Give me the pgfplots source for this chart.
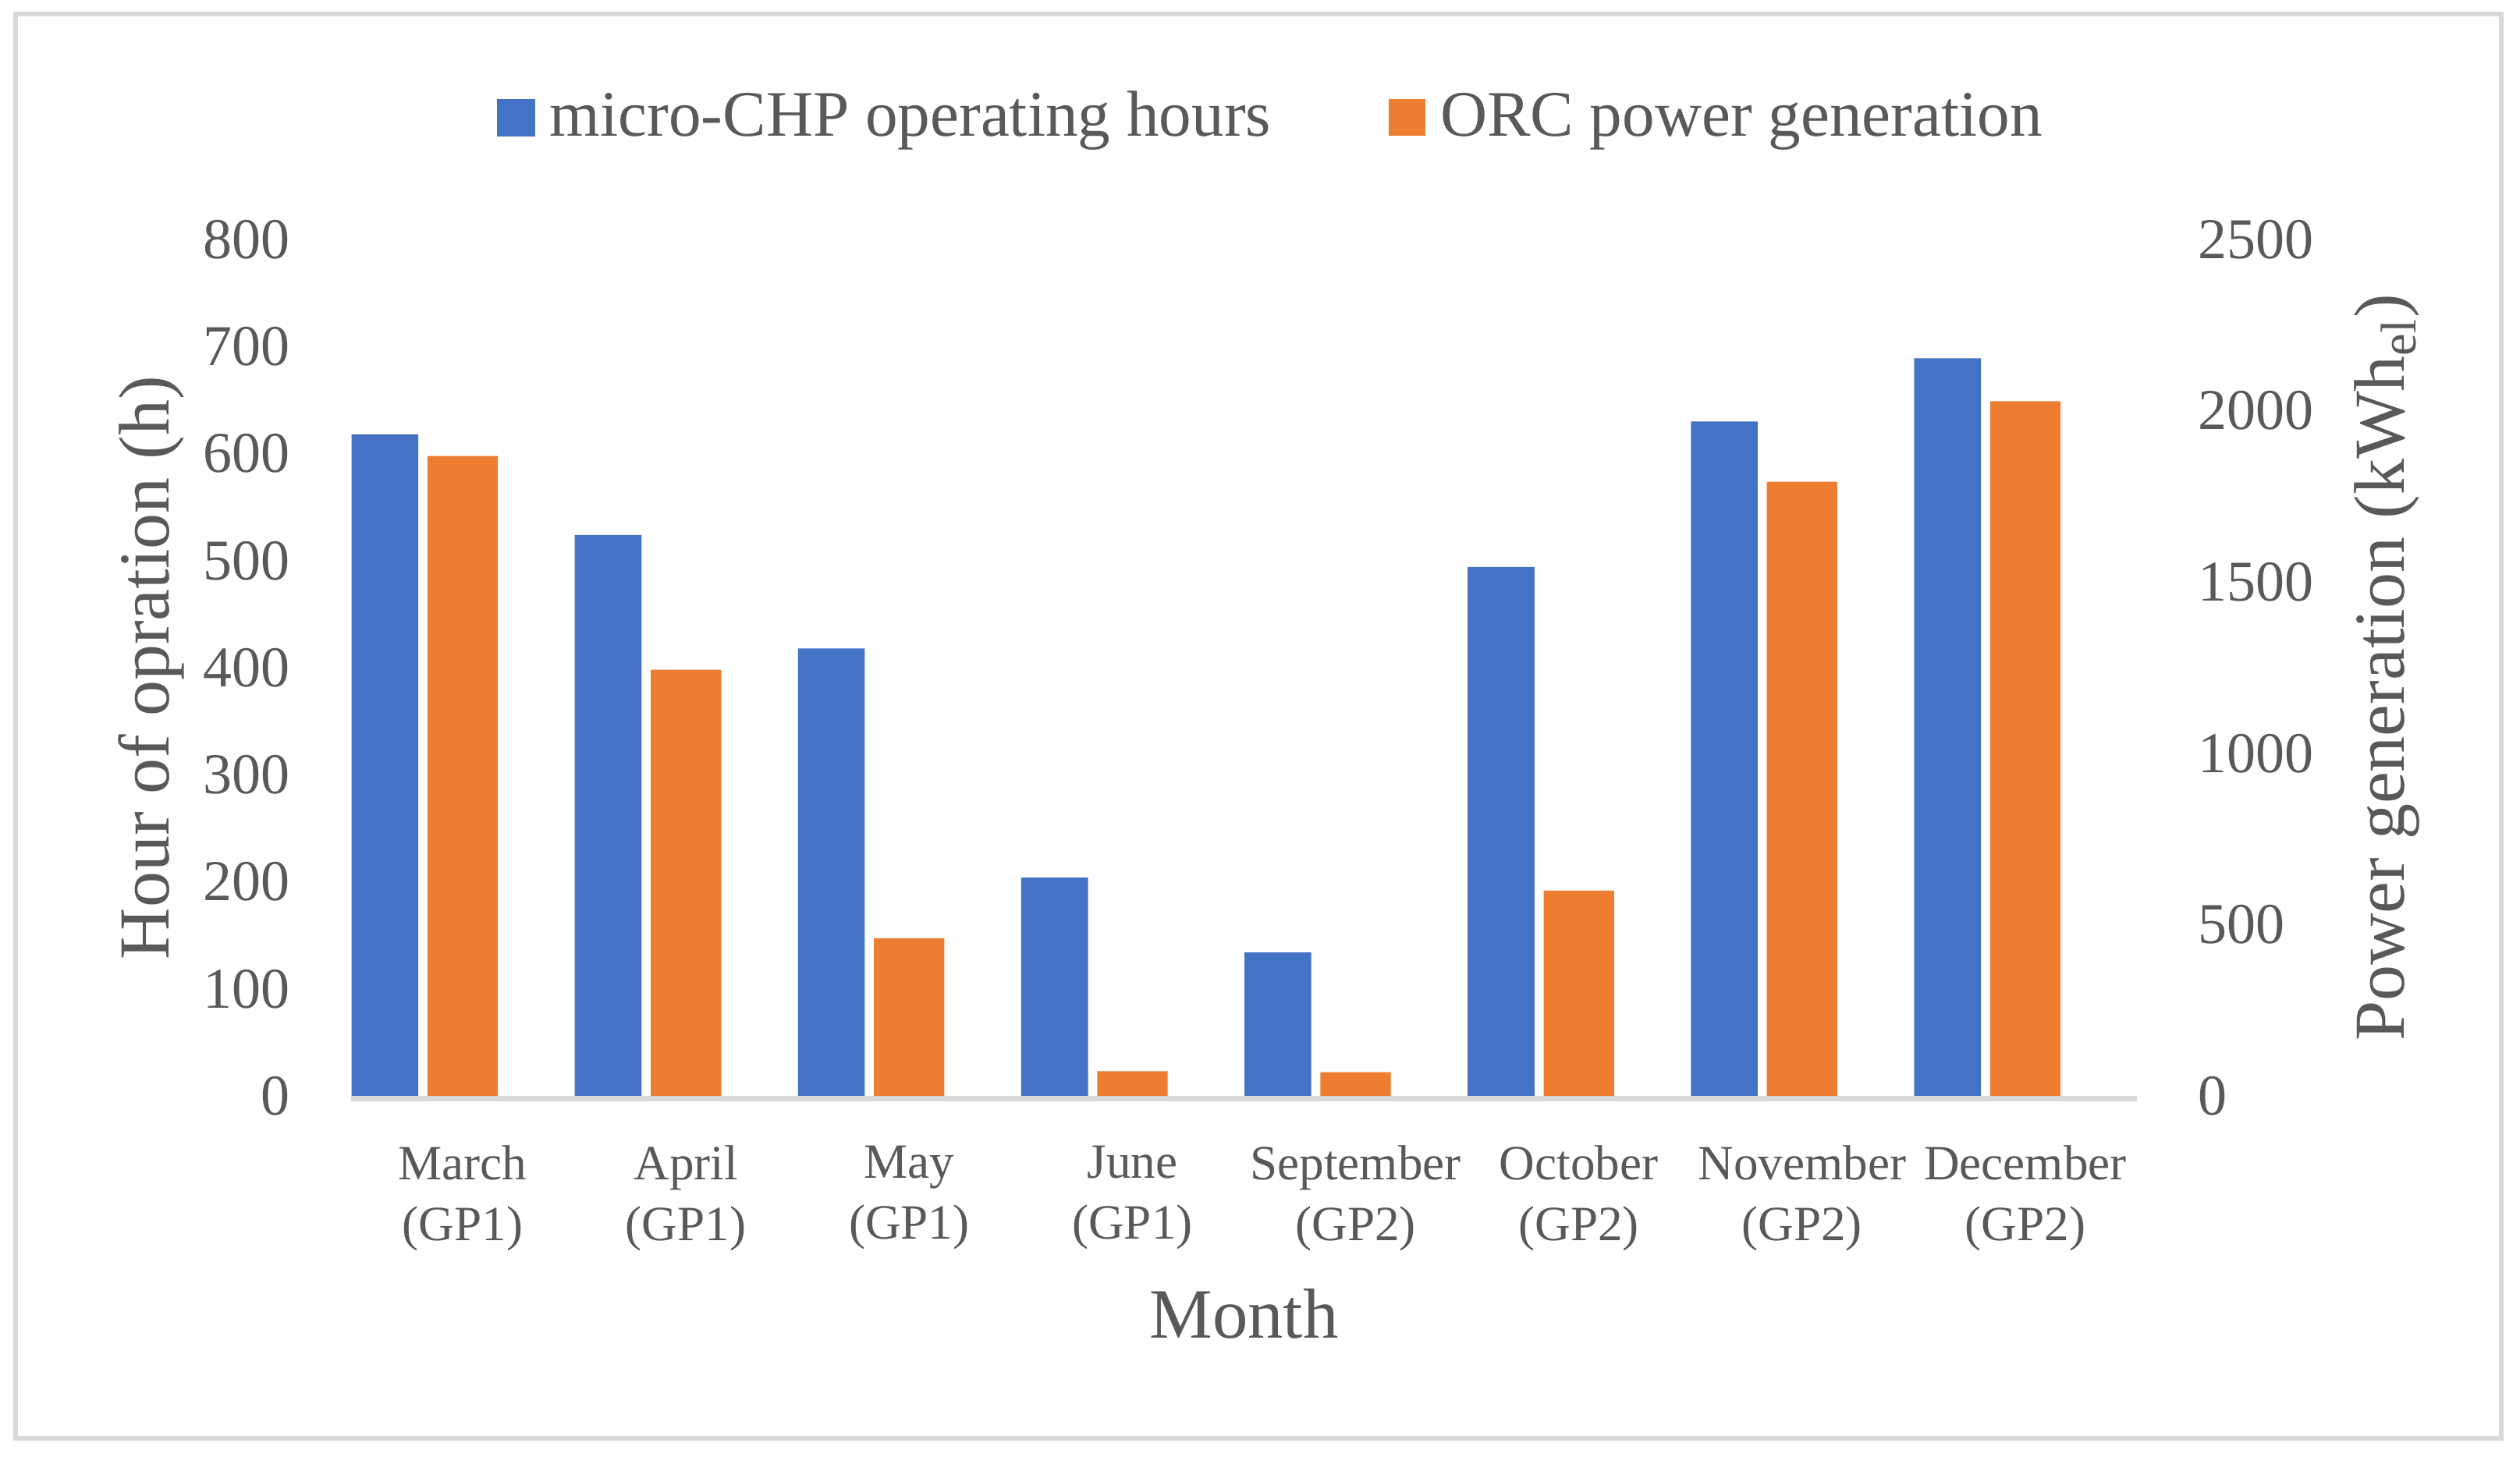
\documentclass[border=0pt]{standalone}
\usepackage{fontspec}
\setmainfont{Liberation Serif}
\usepackage{pgfplots}
\pgfplotsset{compat=1.18}
\definecolor{cblue}{HTML}{4472C4}
\definecolor{corange}{HTML}{ED7D31}
\definecolor{ctext}{HTML}{595959}
\definecolor{cline}{HTML}{D9D9D9}
\pgfplotsset{
  sqb/.style={legend image code/.code={\fill[cblue] (0pt,0pt) rectangle (11.75pt,11.75pt);}},
  sqo/.style={legend image code/.code={\fill[corange] (0pt,0pt) rectangle (11.75pt,11.75pt);}},
  common/.style={
    at={(112.5pt,115.5pt)}, anchor=south west,
    scale only axis, width=572.25pt, height=274.5pt,
    xmin=-0.5, xmax=7.5, ymin=0,
    axis line style={draw=none}, tick style={draw=none},
    /pgf/number format/assume math mode=true,
    /pgf/number format/1000 sep={},
    scaled y ticks=false,
    clip=false,
  },
}
\begin{document}
\begin{tikzpicture}
\path[use as bounding box] (0,0) rectangle (807.5pt,466.75pt);
\fill[white] (0,0) rectangle (807.5pt,466.75pt);
\draw[cline, line width=1.6pt] (5pt,5.8pt) rectangle (801.5pt,462.25pt);

\begin{axis}[common,
  ymax=800,
  axis x line*=bottom, axis y line*=left,
  xtick={0,1,2,3,4,5,6,7},
  xticklabels={{March\\(GP1)},{April\\(GP1)},{May\\(GP1)},{June\\(GP1)},{September\\(GP2)},{October\\(GP2)},{November\\(GP2)},{December\\(GP2)}},
  ytick={0,100,...,800},
  yticklabel style={font=\fontsize{18.5}{22}\selectfont, text=ctext, inner sep=0pt, anchor=east},
  yticklabel shift=19.5pt,
  xticklabel style={font=\fontsize{15.8}{19.5}\selectfont, text=ctext, align=center, inner sep=0pt, anchor=north},
  xticklabel shift=15.75pt,
  xlabel={Month},
  ylabel={Hour of opration (h)},
  every axis x label/.style={at={(axis description cs:0.5,-0.2832)}, anchor=base, font=\fontsize{22.7}{26}\selectfont, text=ctext},
  every axis y label/.style={at={(axis description cs:-0.1118,0.5)}, rotate=90, anchor=center, font=\fontsize{23}{26}\selectfont, text=ctext},
]
\addplot[ybar, bar width=0.2995, bar shift=-0.3485, fill=cblue, draw=none]
  coordinates {(0,618) (1,524) (2,418) (3,204) (4,134) (5,494) (6,630) (7,689)};
\draw[cline, line width=1.65pt] ([yshift=-0.825pt]axis description cs:0,0) -- ([yshift=-0.825pt]axis description cs:1,0);
\end{axis}

\begin{axis}[common,
  ymax=2500,
  hide x axis, axis y line*=right,
  ytick={0,500,...,2500},
  yticklabel style={font=\fontsize{18.5}{22}\selectfont, text=ctext, inner sep=0pt, anchor=west},
  yticklabel shift=19.5pt,
  ylabel={Power generation (kWh\textsubscript{el})},
  every axis y label/.style={at={(axis description cs:1.1402,0.5)}, rotate=90, anchor=center, font=\fontsize{23}{26}\selectfont, text=ctext},
  legend columns=2,
  legend style={draw=none, fill=none, at={(axis description cs:0.5144,1.1444)}, anchor=center,
    inner sep=0pt, font=\fontsize{20.8}{24}\selectfont, text=ctext,
    cells={anchor=base west}, nodes={inner sep=0pt},
    /tikz/every odd column/.append style={column sep=4.75pt},
    /tikz/every even column/.append style={column sep=37.75pt}},
]
\addlegendimage{sqb}
\addlegendentry{micro-CHP operating hours}
\addplot[ybar, bar width=0.3157, bar shift=0, fill=corange, draw=none, sqo]
  coordinates {(0,1868) (1,1244) (2,460) (3,72) (4,69) (5,599) (6,1793) (7,2028)};
\addlegendentry{ORC power generation}
\end{axis}
\end{tikzpicture}
\end{document}
